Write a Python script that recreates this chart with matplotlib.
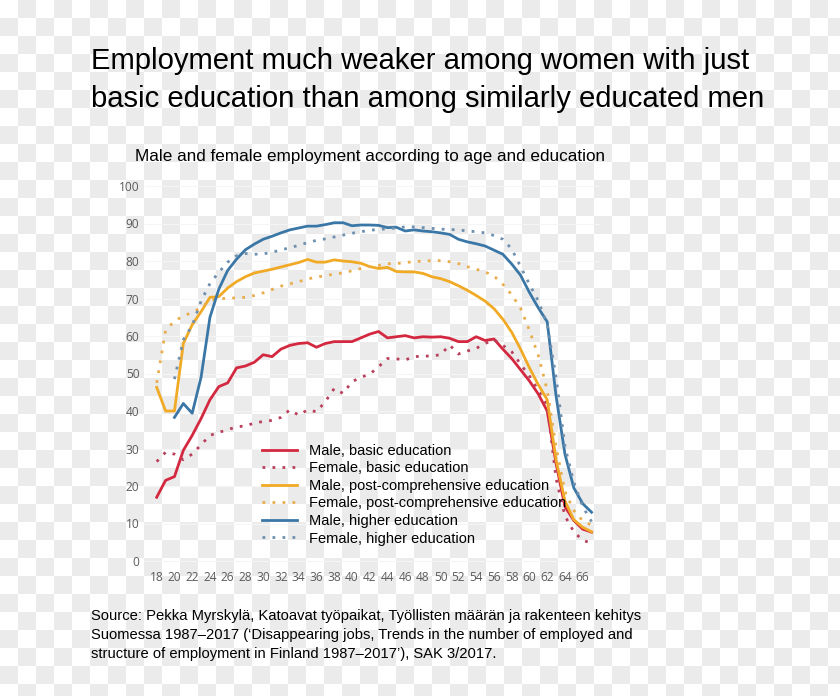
import numpy as np
import matplotlib
matplotlib.use("Agg")
import matplotlib.pyplot as plt
from matplotlib.colors import ListedColormap

nan = np.nan
ages = list(range(18, 68))

male_basic = [17, 21.5, 22.5, 29.5, 33.5, 38, 43, 46.5, 47.5, 51.5,
              52, 53, 55, 54.5, 56.5, 57.5, 58, 58.2, 57, 58,
              58.5, 58.5, 58.5, 59.5, 60.5, 61.2, 59.5, 59.8, 60.1, 59.5,
              59.8, 59.7, 59.8, 59.4, 58.5, 58.5, 59.8, 58.8, 59.2, 56.5,
              54, 51, 48, 44.5, 40, 26, 14.5, 10.8, 8.5, 7.7]
female_basic = [26.5, 29, 28.5, 27, 28.5, 31, 33.5, 34.3, 35, 35.8,
                36, 36.8, 37.2, 37.5, 38.3, 40.3, 38.9, 40.3, 39.8, 42.5,
                46, 44.7, 47.8, 49, 49.8, 51.8, 54, 53.9, 53.6, 54.5,
                54.6, 54.7, 55, 57.6, 55.2, 56, 56.7, 58, 59, 57.5,
                55.8, 52.5, 49.3, 45.5, 41.5, 22, 12, 7.8, 5.5, 4.8]
male_post = [46.3, 40, 40, 58, 63, 66.5, 70.3, 70.5, 72.8, 74.5,
             75.8, 76.8, 77.3, 77.8, 78.4, 79, 79.6, 80.4, 79.7, 79.7,
             80.3, 80, 79.8, 79.4, 78.5, 78, 78.3, 77.2, 77.1, 77.1,
             76.7, 75.8, 75.3, 74.5, 73.4, 72.2, 70.8, 69.3, 67.3, 64.5,
             61, 56.5, 51.5, 47, 43, 27, 16, 11, 9, 7.8]
female_post = [47.5, 61.5, 64, 65.3, 66.3, 67.5, 69.5, 70, 70, 70.2,
               70.3, 70.8, 71.5, 72.4, 73.3, 73.9, 74.5, 75.2, 75.7, 76.1,
               76.5, 76.8, 77.4, 78, 78.5, 78.8, 79.3, 79.3, 79.6, 79.8,
               80, 80.1, 80.1, 79.8, 79.3, 78.5, 77.8, 77.1, 76, 73.8,
               71, 67.4, 61.5, 54.8, 45.5, 30.5, 18.5, 13.5, 10.7, 9.6]
male_higher = [nan, nan, 38.3, 42, 39.4, 49, 65, 72.5, 77.5, 80.5,
               83, 84.5, 85.8, 86.6, 87.5, 88.3, 88.8, 89.3, 89.3, 89.7,
               90.2, 90.2, 89.4, 89.6, 89.6, 89.5, 88.9, 89, 88, 88.3,
               88, 87.8, 87.5, 87.1, 85.8, 85.1, 84.6, 84, 82.9, 81.8,
               79.2, 76.2, 71.6, 67.5, 63.8, 44, 28.5, 19.5, 15.3, 13]
female_higher = [nan, nan, 48.5, 59, 62.8, 69.3, 74, 77, 79.7, 81.4,
                 82, 81.8, 81.9, 82.3, 83, 83.5, 84.2, 84.9, 85.5, 85.9,
                 86.4, 86.9, 87.4, 87.8, 88.2, 88.4, 88.6, 88.8, 89.1, 89.1,
                 88.9, 88.7, 88.5, 88.4, 88.3, 88, 87.8, 87.5, 86.8, 85.8,
                 83.2, 78.5, 73.8, 69.3, 63, 49, 30.5, 21, 14.5, 10.5]

labels = ["Male, basic education", "Female, basic education",
          "Male, post-comprehensive education", "Female, post-comprehensive education",
          "Male, higher education", "Female, higher education"]
xticks = list(range(18, 67, 2))
yticks = list(range(0, 101, 10))

W, H = 840, 696
fig = plt.figure(figsize=(W / 100, H / 100), dpi=100)

# checkerboard backdrop
bg = fig.add_axes([0, 0, 1, 1], zorder=-10)
cell = 18
nr, nc = H // cell + 1, W // cell + 1
board = (np.add.outer(np.arange(nr), np.arange(nc)) % 2)
bg.imshow(board, cmap=ListedColormap(["white", "#ebebeb"]), interpolation="nearest",
          extent=(0, nc * cell, nr * cell, 0), aspect="auto")
bg.set_xlim(0, W)
bg.set_ylim(H, 0)
bg.axis("off")

# axes placed so that pixel mapping matches reference
px_x0, px_x1, px_y0, px_y1 = 145, 600, 180, 570
ax = fig.add_axes([px_x0 / W, 1 - px_y1 / H, (px_x1 - px_x0) / W, (px_y1 - px_y0) / H])
ax.set_facecolor("none")
xs = 8.875
ax.set_xlim(18 - (156.7 - px_x0) / xs, 18 + (px_x1 - 156.7) / xs)
ax.set_ylim((561 - px_y1) / 3.75, (561 - px_y0) / 3.75)

red, red_d = "#d3283f", "#b9405c"
orange, orange_d = "#f0aa25", "#e9ad4e"
blue, blue_d = "#3a77a6", "#6f8fae"
lw = 2.0
dot = (0, (1, 2.6))

ax.plot(ages, male_basic, color=red, lw=lw, label=labels[0])
ax.plot(ages, female_basic, color=red_d, lw=lw, ls=dot, label=labels[1])
ax.plot(ages, male_post, color=orange, lw=lw, label=labels[2])
ax.plot(ages, female_post, color=orange_d, lw=lw, ls=dot, label=labels[3])
ax.plot(ages, male_higher, color=blue, lw=lw, label=labels[4])
ax.plot(ages, female_higher, color=blue_d, lw=lw, ls=dot, label=labels[5])

ax.set_xticks(xticks)
ax.set_yticks(yticks)
ax.tick_params(length=0, labelsize=8.6, labelcolor="#5a5a5a")
ax.tick_params(axis="y", pad=4)
ax.tick_params(axis="x", pad=1)
for t in ax.get_xticklabels() + ax.get_yticklabels():
    t.set_fontfamily("Open Sans")
for s in ax.spines.values():
    s.set_visible(False)
ax.grid(axis="y", color="#f5f5f5", lw=0.8)
ax.set_axisbelow(True)

leg = ax.legend(loc="upper left", bbox_to_anchor=(262 / W, 1 - 444 / H),
                bbox_transform=fig.transFigure, frameon=False, borderpad=0,
                borderaxespad=0, handlelength=2.4, handletextpad=0.85,
                labelspacing=0.24, prop={"family": "Liberation Sans", "size": 10.5})

fig.text(91 / W, 1 - 47 / H,
         "Employment much weaker among women with just\n"
         "basic education than among similarly educated men",
         ha="left", va="top", fontsize=21.1, family="Liberation Sans",
         linespacing=1.46, color="black")
fig.text(135 / W, 1 - 149 / H,
         "Male and female employment according to age and education",
         ha="left", va="top", fontsize=12.3, family="Liberation Sans", color="black")
fig.text(91 / W, 1 - 609 / H,
         "Source: Pekka Myrskylä, Katoavat työpaikat, Työllisten määrän ja rakenteen kehitys\n"
         "Suomessa 1987–2017 (‘Disappearing jobs, Trends in the number of employed and\n"
         "structure of employment in Finland 1987–2017’), SAK 3/2017.",
         ha="left", va="top", fontsize=10.6, family="Liberation Sans",
         linespacing=1.46, color="black")

fig.savefig("out.png", dpi=100)
